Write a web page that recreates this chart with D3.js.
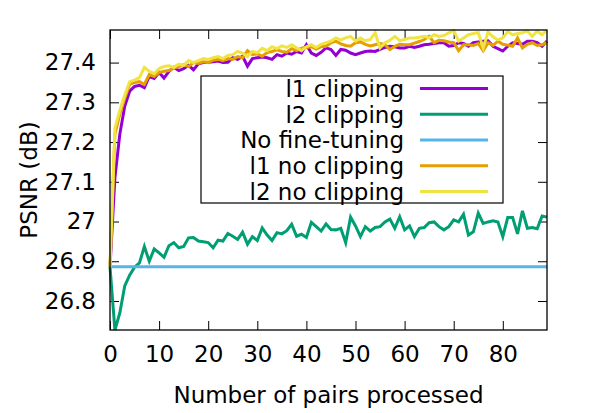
<!DOCTYPE html>
<html>
<head>
<meta charset="utf-8">
<script src="https://cdn.jsdelivr.net/npm/d3@7"></script>
<style>
  body { margin: 0; background: #fff; }
  text { font-family: "DejaVu Sans", sans-serif; }
</style>
</head>
<body>
<svg id="chart" width="590" height="413"></svg>
<script>
// series names, in plot order
var seriesNames = ["l1 clipping", "l2 clipping", "No fine-tuning", "l1 no clipping", "l2 no clipping"];
var seriesColors = ["#9400d3", "#009e73", "#56b4e9", "#e69f00", "#f0e442"];

var xTicks = [0, 10, 20, 30, 40, 50, 60, 70, 80];
var yTicks = [26.8, 26.9, 27, 27.1, 27.2, 27.3, 27.4];

// PSNR after each processed pair (0..89)
var l1Clip = [26.886, 27.11, 27.22, 27.29, 27.328, 27.34, 27.343, 27.337, 27.365, 27.36,
  27.375, 27.361, 27.378, 27.388, 27.38, 27.385, 27.393, 27.382, 27.397, 27.40,
  27.401, 27.402, 27.404, 27.40, 27.401, 27.412, 27.408, 27.416, 27.391, 27.41,
  27.412, 27.414, 27.412, 27.408, 27.42, 27.416, 27.424, 27.421, 27.428, 27.424,
  27.445, 27.424, 27.418, 27.426, 27.437, 27.433, 27.418, 27.433, 27.431, 27.424,
  27.420, 27.424, 27.428, 27.429, 27.428, 27.433, 27.438, 27.441, 27.440, 27.437,
  27.437, 27.441, 27.438, 27.441, 27.445, 27.446, 27.448, 27.450, 27.450, 27.441,
  27.443, 27.450, 27.448, 27.441, 27.450, 27.452, 27.454, 27.455, 27.441, 27.435,
  27.429, 27.441, 27.450, 27.448, 27.446, 27.454, 27.454, 27.450, 27.441, 27.454];

var l2Clip = [26.886, 26.727, 26.770, 26.838, 26.865, 26.885, 26.896, 26.937, 26.900, 26.931,
  26.921, 26.910, 26.939, 26.947, 26.934, 26.937, 26.959, 26.960, 26.951, 26.949,
  26.947, 26.934, 26.953, 26.951, 26.970, 26.963, 26.955, 26.973, 26.943, 26.962,
  26.952, 26.984, 26.966, 26.952, 26.972, 26.969, 26.977, 26.993, 26.963, 26.968,
  26.960, 26.998, 26.987, 26.976, 26.994, 26.980, 26.979, 26.983, 26.947, 27.011,
  26.989, 26.962, 26.987, 26.976, 26.985, 26.987, 26.999, 27.006, 26.983, 27.012,
  26.979, 26.989, 26.962, 26.983, 26.985, 26.997, 26.999, 26.987, 26.979, 26.987,
  27.004, 26.999, 27.018, 26.966, 26.974, 27.021, 26.995, 26.999, 27.002, 26.999,
  26.962, 27.010, 27.010, 26.969, 27.027, 26.983, 26.985, 26.982, 27.014, 27.011];

var noTune = 26.886;

var l1NoClip = [26.886, 27.22, 27.27, 27.31, 27.345, 27.35, 27.352, 27.345, 27.37, 27.365,
  27.375, 27.378, 27.38, 27.386, 27.39, 27.395, 27.39, 27.40, 27.398, 27.402,
  27.40, 27.406, 27.408, 27.405, 27.41, 27.408, 27.415, 27.412, 27.43, 27.42,
  27.422, 27.416, 27.425, 27.428, 27.432, 27.428, 27.426, 27.435, 27.43, 27.436,
  27.438, 27.44, 27.434, 27.44, 27.441, 27.450, 27.454, 27.447, 27.443, 27.441,
  27.450, 27.452, 27.446, 27.442, 27.445, 27.448, 27.445, 27.433, 27.441, 27.446,
  27.445, 27.445, 27.449, 27.453, 27.458, 27.466, 27.450, 27.456, 27.455, 27.452,
  27.450, 27.430, 27.445, 27.445, 27.443, 27.448, 27.430, 27.450, 27.443, 27.454,
  27.446, 27.444, 27.441, 27.462, 27.437, 27.446, 27.450, 27.443, 27.445, 27.450];

var l2NoClip = [26.886, 27.235, 27.28, 27.318, 27.352, 27.356, 27.362, 27.388, 27.378, 27.372,
  27.385, 27.39, 27.392, 27.388, 27.396, 27.393, 27.405, 27.40, 27.405, 27.41,
  27.408, 27.412, 27.415, 27.41, 27.418, 27.42, 27.428, 27.424, 27.415, 27.428,
  27.425, 27.436, 27.43, 27.44, 27.435, 27.442, 27.438, 27.445, 27.437, 27.43,
  27.44, 27.445, 27.438, 27.446, 27.450, 27.454, 27.462, 27.457, 27.462, 27.466,
  27.454, 27.462, 27.455, 27.458, 27.475, 27.437, 27.450, 27.456, 27.466, 27.455,
  27.458, 27.462, 27.462, 27.464, 27.466, 27.462, 27.470, 27.466, 27.468, 27.475,
  27.481, 27.454, 27.462, 27.470, 27.473, 27.475, 27.437, 27.477, 27.465, 27.457,
  27.462, 27.478, 27.470, 27.473, 27.475, 27.479, 27.466, 27.479, 27.470, 27.482];

var series = [l1Clip, l2Clip, l1Clip.map(function(){ return noTune; }), l1NoClip, l2NoClip];

var margin = {left: 110, right: 43, top: 30, bottom: 83};
var W = 590, H = 413;
var svg = d3.select("#chart");

var x = d3.scaleLinear()
  .domain([0, l1Clip.length - 1])
  .range([margin.left, W - margin.right]);

var allVals = [].concat.apply([], series);
var y = d3.scaleLinear()
  .domain(d3.extent(allVals))
  .range([H - margin.bottom, margin.top]);

var fs = 23;

// axes, ticks pointing inward
var gx = svg.append("g")
  .attr("transform", "translate(0," + (H - margin.bottom) + ")")
  .call(d3.axisBottom(x).tickValues(xTicks).tickSize(-9).tickPadding(16).tickFormat(d3.format("d")));
var gxt = svg.append("g")
  .attr("transform", "translate(0," + margin.top + ")")
  .call(d3.axisTop(x).tickValues(xTicks).tickSize(-9).tickFormat(""));
var gy = svg.append("g")
  .attr("transform", "translate(" + margin.left + ",0)")
  .call(d3.axisLeft(y).tickValues(yTicks).tickSize(-9).tickPadding(14).tickFormat(function(d){ return String(d); }));
var gyr = svg.append("g")
  .attr("transform", "translate(" + (W - margin.right) + ",0)")
  .call(d3.axisRight(y).tickValues(yTicks).tickSize(-9).tickFormat(""));

[gx, gxt, gy, gyr].forEach(function(g){
  g.select(".domain").remove();
  g.selectAll(".tick line").attr("stroke", "#000").attr("stroke-width", 1);
  g.selectAll(".tick text")
    .style("font-family", "DejaVu Sans")
    .style("font-size", fs + "px")
    .attr("fill", "#000");
});

// lines
var line = d3.line()
  .x(function(d, i){ return x(i); })
  .y(function(d){ return y(d); });

svg.append("g").selectAll("path")
  .data(series)
  .join("path")
  .attr("d", line)
  .attr("fill", "none")
  .attr("stroke", function(d, i){ return seriesColors[i]; })
  .attr("stroke-width", 3)
  .attr("stroke-linejoin", "miter");

// frame
svg.append("rect")
  .attr("x", margin.left).attr("y", margin.top)
  .attr("width", W - margin.left - margin.right)
  .attr("height", H - margin.top - margin.bottom)
  .attr("fill", "none")
  .attr("stroke", "#000")
  .attr("stroke-width", 1.3);

// legend
var key = svg.append("g");
key.append("rect")
  .attr("x", 201).attr("y", 76)
  .attr("width", 302).attr("height", 127)
  .attr("fill", "none")
  .attr("stroke", "#000")
  .attr("stroke-width", 1.2);

var rows = key.selectAll("g.row")
  .data(seriesNames)
  .join("g")
  .attr("class", "row")
  .attr("transform", function(d, i){ return "translate(0," + (88.5 + i * 25.75) + ")"; });
rows.append("text")
  .attr("x", 404)
  .attr("dy", "0.36em")
  .attr("text-anchor", "end")
  .style("font-size", fs + "px")
  .text(function(d){ return d; });
rows.append("line")
  .attr("x1", 420).attr("x2", 488)
  .attr("stroke", function(d, i){ return seriesColors[i]; })
  .attr("stroke-width", 3);

// axis titles
svg.append("text")
  .attr("x", (margin.left + W - margin.right) / 2)
  .attr("y", 403)
  .attr("text-anchor", "middle")
  .style("font-size", fs + "px")
  .text("Number of pairs processed");

svg.append("text")
  .attr("transform", "translate(37," + ((margin.top + H - margin.bottom) / 2) + ") rotate(-90)")
  .attr("text-anchor", "middle")
  .style("font-size", fs + "px")
  .text("PSNR (dB)");
</script>
</body>
</html>
